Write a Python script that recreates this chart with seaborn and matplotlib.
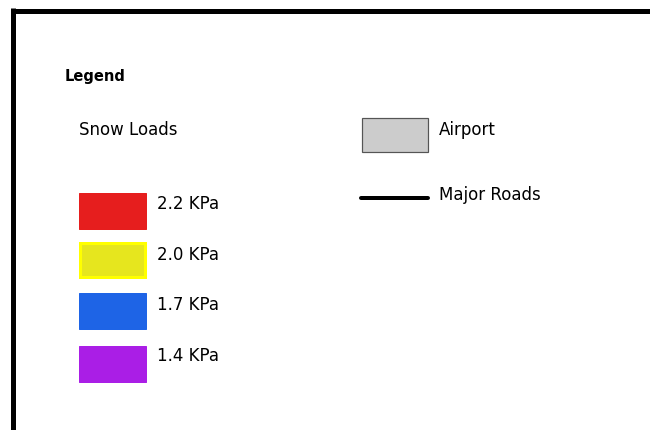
import matplotlib
matplotlib.use("Agg")
import matplotlib.pyplot as plt
import matplotlib.patches as mpatches
import seaborn as sns

# Legend content
title = "Legend"
group_title = "Snow Loads"
load_labels = ["2.2 KPa", "2.0 KPa", "1.7 KPa", "1.4 KPa"]
load_colors = ["#E61E1E", "#E6E61E", "#1E64E6", "#AA1EE6"]
load_edges = ["#E61E1E", "#FFFF00", "#1E64E6", "#AA1EE6"]
other_labels = ["Airport", "Major Roads"]
airport_fill = "#CCCCCC"
airport_edge = "#555555"
road_color = "#000000"

sns.set_theme(style="white")
plt.rcParams["font.family"] = ["DejaVu Sans"]

W, H = 650, 431
fig = plt.figure(figsize=(W / 100, H / 100), dpi=100)
ax = fig.add_axes([0, 0, 1, 1])
ax.set_xlim(0, W)
ax.set_ylim(H, 0)
ax.axis("off")

px = 72 / 100  # points per pixel

# frame (top and left edges)
ax.plot([12.5, 700], [11.5, 11.5], color="black", lw=5 * px, solid_capstyle="butt")
ax.plot([12.5, 12.5], [9, 440], color="black", lw=5 * px, solid_capstyle="butt")

ax.text(65, 80.5, title, fontsize=10.5, fontweight="bold", color="black",
        ha="left", va="baseline")
ax.text(79, 135.5, group_title, fontsize=12, color="black", ha="left", va="baseline")

tops = [193, 242, 293, 346]
baselines = [209.5, 260, 310, 361.5]
for lab, fc, ec, top, bl in zip(load_labels, load_colors, load_edges, tops, baselines):
    lw = 3 if ec != fc else 1
    ax.add_patch(mpatches.Rectangle((78 + lw / 2, top + lw / 2), 68.5 - lw, 37 - lw,
                                    facecolor=fc, edgecolor=ec, lw=lw * px))
    ax.text(157, bl, lab, fontsize=12, color="black", ha="left", va="baseline")

# Airport
ax.add_patch(mpatches.Rectangle((361.5, 118.5), 66, 34.5, facecolor=airport_fill,
                                edgecolor=airport_edge, lw=1.2 * px))
ax.text(439, 135.5, other_labels[0], fontsize=12, color="black", ha="left", va="baseline")

# Major roads
sns.lineplot(x=[361, 428], y=[198.5, 198.5], color=road_color, lw=4 * px, ax=ax)
ax.text(439, 200, other_labels[1], fontsize=12, color="black", ha="left", va="baseline")

fig.savefig("out.png", dpi=100, facecolor="white")
